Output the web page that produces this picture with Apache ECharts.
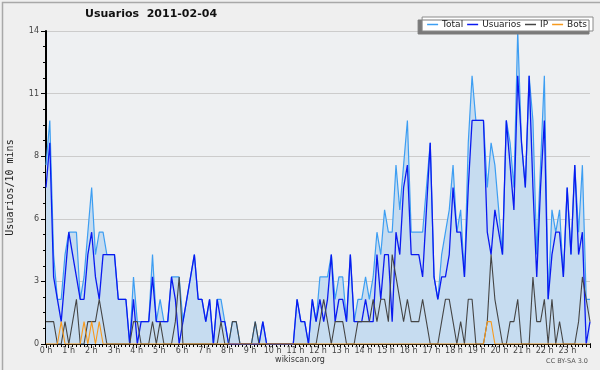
<!DOCTYPE html>
<html><head><meta charset="utf-8">
<script src="https://cdn.jsdelivr.net/npm/echarts@6/dist/echarts.min.js"></script>
<style>html,body{margin:0;padding:0;background:#efefef}#c{width:600px;height:370px}</style>
</head><body><div id="c"></div>
<script>
// 144 ten-minute samples, drawn from the left edge (0 h) to the right edge (24 h)
const hourLabels = ["0 h","1 h","2 h","3 h","4 h","5 h","6 h","7 h","8 h","9 h","10 h","11 h","12 h","13 h","14 h","15 h","16 h","17 h","18 h","19 h","20 h","21 h","22 h","23 h"];
const yTickLabels = ["0","3","6","8","11","14"];
const total = [8,10,4,2,2,4,5,5,5,2,3,5, 7,4,5,5,4,4,4,2,2,2,0,3, 1,1,1,1,4,1,2,1,1,3,3,3, 1,2,3,4,2,2,1,2,0,2,2,1,
  0,1,1,0,0,0,0,1,0,1,0,0, 0,0,0,0,0,0,2,1,1,0,2,1, 3,3,3,4,2,3,3,1,4,1,2,2, 3,2,3,5,4,6,5,5,8,6,8,10,
  5,5,5,5,7,9,3,2,4,5,6,8, 5,6,3,9,12,10,10,10,7,9,8,6, 4,10,9,7,14,9,7,12,10,4,8,12, 2,6,5,6,3,7,4,8,5,8,2,2];
const usuarios = [7,9,3,2,1,3,5,4,3,2,2,4, 5,3,2,4,4,4,4,2,2,2,0,2, 0,1,1,1,3,1,1,1,1,3,2,0, 1,2,3,4,2,2,1,2,0,2,1,1,
  0,0,0,0,0,0,0,0,0,1,0,0, 0,0,0,0,0,0,2,1,1,0,2,1, 2,1,2,4,1,2,2,1,4,1,1,1, 2,1,1,4,2,4,4,1,5,4,7,8,
  4,4,4,3,6,9,3,2,3,3,4,7, 5,5,3,7,10,10,10,10,5,4,6,5, 4,10,8,6,12,9,7,12,7,3,7,10, 2,4,5,5,3,7,4,8,4,5,0,1];
const ip = [1,1,1,0,0,1,0,1,2,0,0,1, 1,1,2,1,0,0,0,0,0,0,0,1, 1,0,0,0,1,0,1,0,0,0,1,3, 0,0,0,0,0,0,0,0,0,0,1,0,
  0,1,1,0,0,0,0,1,0,0,0,0, 0,0,0,0,0,0,0,0,0,0,0,0, 1,2,1,0,1,1,1,0,0,0,1,1, 1,1,2,1,2,2,1,4,3,2,1,2,
  1,1,1,2,1,0,0,0,1,2,2,1, 0,1,0,2,2,0,0,0,1,4,2,1, 0,0,1,1,2,0,0,0,3,1,1,2, 0,2,0,1,0,0,0,0,1,3,2,1];
const bots = [0,0,0,0,1,0,0,0,0,0,1,0, 1,0,1,0,0,0,0,0,0,0,0,0, 0,0,0,0,0,0,0,0,0,0,0,0, 0,0,0,0,0,0,0,0,0,0,0,0,
  0,0,0,0,0,0,0,0,0,0,0,0, 0,0,0,0,0,0,0,0,0,0,0,0, 0,0,0,0,0,0,0,0,0,0,0,0, 0,0,0,0,0,0,0,0,0,0,0,0,
  0,0,0,0,0,0,0,0,0,0,0,0, 0,0,0,0,0,0,0,0,1,1,0,0, 0,0,0,0,0,0,0,0,0,0,0,0, 0,0,0,0,0,0,0,0,0,0,0,0];

const pairs = a => a.map((v, i) => [i, v]);
const chart = echarts.init(document.getElementById('c'), null, {renderer: 'canvas'});
const axisFont = {fontFamily: 'DejaVu Sans', fontSize: 8, color: '#444'};
chart.setOption({
  animation: false,
  backgroundColor: '#efefef',
  title: {
    text: 'Usuarios  2011-02-04', left: 85, top: 9, padding: 0,
    textStyle: {fontFamily: 'DejaVu Sans', fontWeight: 'bold', fontSize: 11, color: '#111'}
  },
  legend: {
    right: 7, top: 17, orient: 'horizontal',
    data: [
      {name: 'Total', icon: 'rect'}, {name: 'Usuarios', icon: 'rect'},
      {name: 'IP', icon: 'rect'}, {name: 'Bots', icon: 'rect'}
    ],
    itemWidth: 11, itemHeight: 1.5, itemGap: 4,
    padding: [3, 6, 2, 5],
    backgroundColor: '#ffffff', borderColor: '#8a8a8a', borderWidth: 1,
    shadowColor: '#7a7a7a', shadowBlur: 0, shadowOffsetX: -4, shadowOffsetY: 3,
    textStyle: {fontFamily: 'DejaVu Sans', fontSize: 9, color: '#222', padding: [0, 0, 0, -1]}
  },
  grid: {left: 46, right: 10, top: 31, bottom: 26, show: true, backgroundColor: '#eef0f2', borderWidth: 0,
         containLabel: false, outerBoundsMode: 'none'},
  xAxis: [{
    type: 'value', min: 0, max: 144, interval: 6,
    axisLine: {lineStyle: {color: '#000', width: 2}},
    axisTick: {length: 4, lineStyle: {color: '#000'}},
    minorTick: {show: true, splitNumber: 6, length: 3, lineStyle: {color: '#000'}},
    axisLabel: Object.assign({margin: 3, showMaxLabel: false,
      formatter: v => hourLabels[Math.round(v / 6)] || ''}, axisFont),
    splitLine: {show: false}
  }, {
    type: 'value', min: 0, max: 143, show: false, position: 'bottom'
  }],
  yAxis: {
    type: 'value', min: 0, max: 14, interval: 2.8,
    name: 'Usuarios/10 mins', nameLocation: 'middle', nameGap: 31,
    nameTextStyle: {fontFamily: 'DejaVu Sans Mono', fontSize: 10, color: '#222'},
    axisLine: {show: true, onZero: false, lineStyle: {color: '#000', width: 2}},
    axisTick: {length: 5, lineStyle: {color: '#000'}},
    minorTick: {show: true, splitNumber: 4, length: 3, lineStyle: {color: '#000'}},
    axisLabel: Object.assign({margin: 7, formatter: v => yTickLabels[Math.round(v / 2.8)]}, axisFont),
    splitLine: {lineStyle: {color: '#cccccc', width: 1}}
  },
  series: [
    {name: 'Total', type: 'line', xAxisIndex: 1, data: pairs(total), symbol: 'none', z: 1,
     color: '#3d9ef2', lineStyle: {color: '#3d9ef2', width: 1.2},
     areaStyle: {color: '#c6dcf0', opacity: 1}},
    {name: 'Usuarios', type: 'line', xAxisIndex: 1, data: pairs(usuarios), symbol: 'none', z: 2,
     color: '#0a1af0', lineStyle: {color: '#0a1af0', width: 1.3}},
    {name: 'IP', type: 'line', xAxisIndex: 1, data: pairs(ip), symbol: 'none', z: 3,
     color: '#454545', lineStyle: {color: '#454545', width: 1.1}},
    {name: 'Bots', type: 'line', xAxisIndex: 1, data: pairs(bots), symbol: 'none', z: 4,
     color: '#f79a1e', lineStyle: {color: '#f79a1e', width: 1.1}}
  ],
  graphic: [
    {type: 'rect', left: 0, top: 0, shape: {x: 0.75, y: 0.75, width: 598.5, height: 368.5}, silent: true,
     style: {fill: 'none', stroke: '#a8a8a8', lineWidth: 1.5}, z: 100},
    {type: 'text', left: 'center', top: 356, style: {text: 'wikiscan.org', font: '8px "DejaVu Sans"', fill: '#333'}},
    {type: 'text', right: 12, top: 358, style: {text: 'CC BY-SA 3.0', font: '6.5px "DejaVu Sans"', fill: '#555'}}
  ]
});
</script></body></html>
